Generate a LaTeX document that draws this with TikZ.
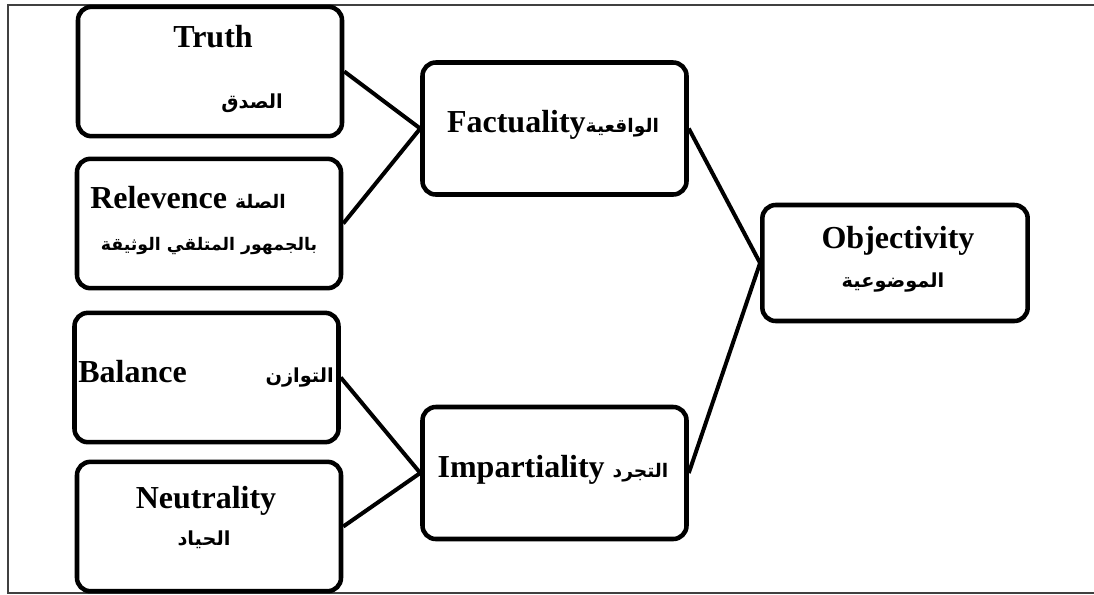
\documentclass[tikz,border=0pt]{standalone}
\usepackage{fontspec}
\setmainfont{Liberation Serif}
\newfontfamily\arabicfont[Script=Arabic]{DejaVu Sans}
\TeXXeTstate=1
\usetikzlibrary{positioning}
\newcommand{\artxt}[1]{{\arabicfont\bfseries\beginR #1\endR}}

\begin{document}
\begin{tikzpicture}[x=0.75pt,y=-0.75pt,
  box/.style={draw,line width=3.4pt,rounded corners=10pt,inner sep=0pt,
    minimum width=198pt,minimum height=97pt},
  entxt/.style={font=\fontsize{24}{28}\selectfont\bfseries,inner sep=0pt},
  artx/.style={font=\fontsize{14.5}{17}\selectfont,inner sep=0pt},
  link/.style={line width=3pt}]
\useasboundingbox (0,0) rectangle (1094,594);
% Outer frame
\draw[line width=1.3pt,black!75] (1094,5) -- (8,5) -- (8,593) -- (1094,593);
% Left column
\node[box] (truth) at (210,71.5) {};
\node[box] (relev) at (209,223.5) {};
\node[box] (balance) at (206.5,377.5) {};
\node[box] (neutral) at (209,526.5) {};
% Middle column
\node[box,minimum height=99pt] (fact) at (554.5,128.5) {};
\node[box,minimum height=99pt] (impart) at (554.5,473) {};
% Right
\node[box,minimum width=199pt,minimum height=87pt] (object) at (895,263) {};
% Texts
\node[entxt,anchor=base] (truthEn) at (213,47) {Truth};
\node[artx,anchor=base] (truthAr) at (252,108) {\artxt{الصدق}};
\node[entxt,anchor=base west] (relevEn) at (90,208) {Relevence \artxt{\fontsize{14}{17}\selectfont الصلة}};
\node[artx,anchor=base,font=\fontsize{13}{16}\selectfont] (relevAr) at (209,250) {\artxt{بالجمهور المتلقي الوثيقة}};
\node[entxt,anchor=base west] (balanceEn) at (78,382) {Balance};
\node[artx,anchor=base east] (balanceAr) at (334,382) {\artxt{التوازن}};
\node[entxt,anchor=base] (neutralEn) at (206,508) {Neutrality};
\node[artx,anchor=base] (neutralAr) at (204,545) {\artxt{الحياد}};
\node[entxt,anchor=base] (factEn) at (553,132) {Factuality\artxt{\fontsize{14}{17}\selectfont الواقعية}};
\node[entxt,anchor=base] (impartEn) at (553,477) {Impartiality \artxt{\fontsize{14}{17}\selectfont التجرد}};
\node[entxt,anchor=base] (objectEn) at (898,248) {Objectivity};
\node[artx,anchor=base] (objectAr) at (893,287) {\artxt{الموضوعية}};
% Connectors
\draw[link] (truth.east) -- (fact.west);
\draw[link] (relev.east) -- (fact.west);
\draw[link] (balance.east) -- (impart.west);
\draw[link] (neutral.east) -- (impart.west);
\draw[link] (fact.east) -- (object.west);
\draw[link] (impart.east) -- (object.west);
\end{tikzpicture}
\end{document}
